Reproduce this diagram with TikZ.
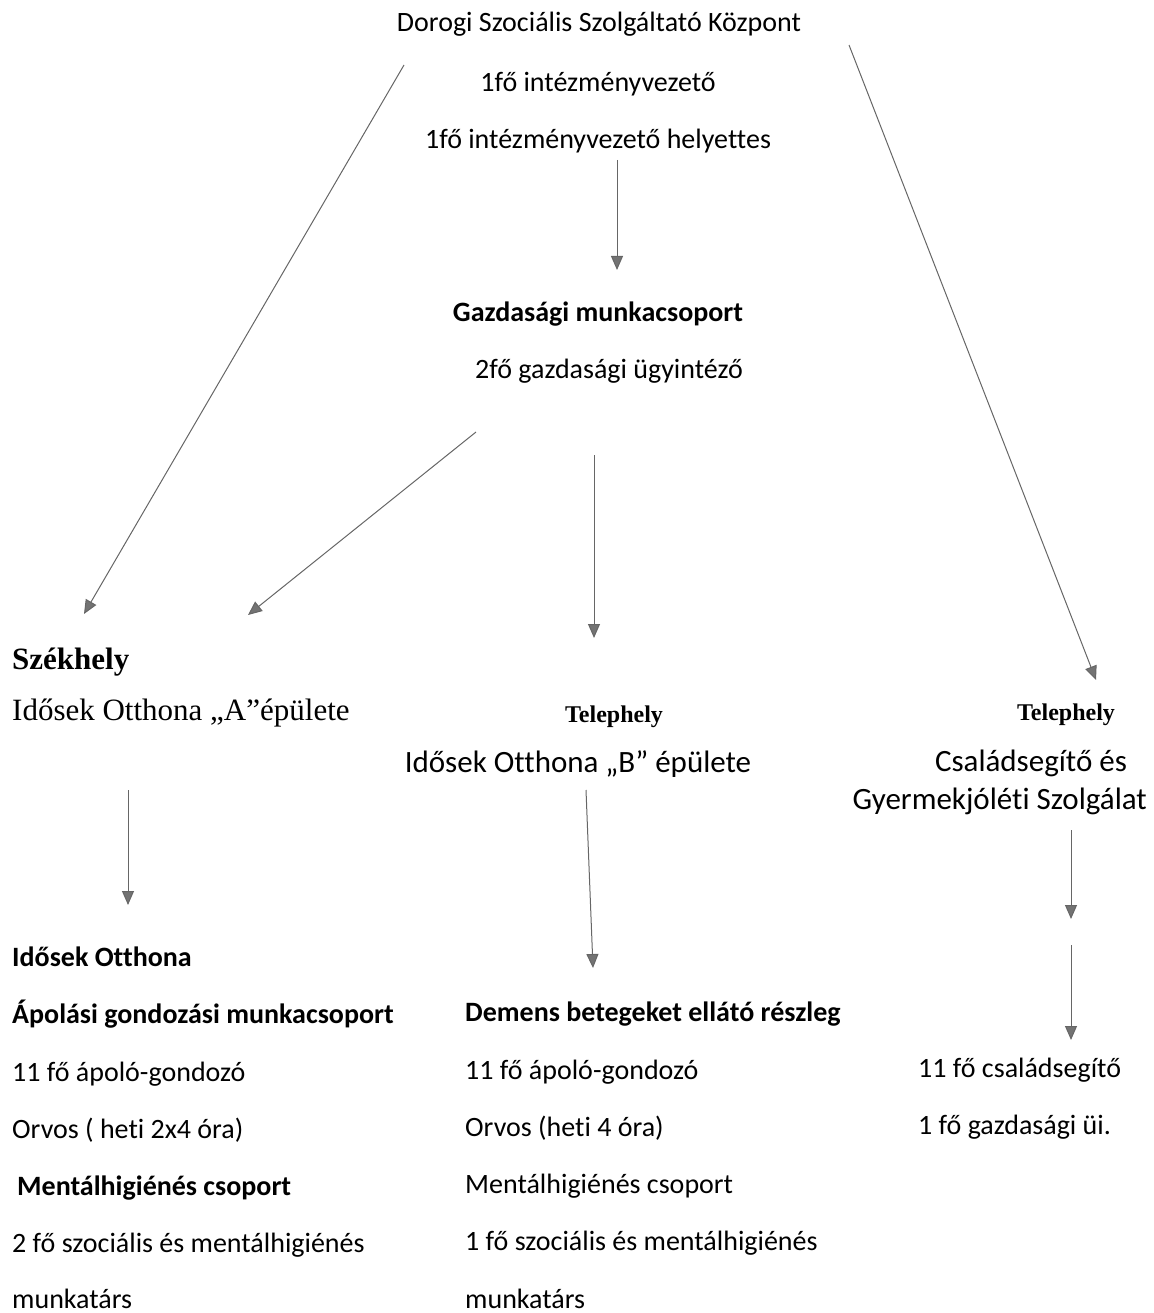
\documentclass[tikz,border=0pt]{standalone}
\usepackage{fontspec}
\setmainfont{Carlito}[Ligatures={TeX,NoCommon}]
\newfontfamily\timesfont{Liberation Serif}
\usetikzlibrary{arrows.meta}

\begin{document}
\begin{tikzpicture}[x=1pt,y=1pt]
\tikzstyle{every node}+=[inner sep=0pt]
\tikzstyle{txt}=[font=\fontsize{28}{33}\selectfont]
\tikzstyle{txtb}=[font=\fontsize{28}{33}\selectfont\bfseries]
\tikzstyle{txtnagy}=[font=\fontsize{31}{36}\selectfont]
\tikzstyle{tms}=[font=\timesfont\fontsize{31}{36}\selectfont]
\tikzstyle{tmsb}=[font=\timesfont\fontsize{31}{36}\selectfont\bfseries]
\tikzstyle{tmskis}=[font=\timesfont\fontsize{24}{28}\selectfont\bfseries]
\tikzstyle{nyil}=[black!60, line width=1pt,
  -{Triangle[length=14pt,width=12pt,fill=black!55]}]
\useasboundingbox (0,0) rectangle (1153,-1313);
% kozpont
\node[txt, anchor=mid] (kozpont) at (599,-29) {Dorogi Szociális Szolgáltató Központ};
\node[txt, anchor=mid] (vezeto) at (598,-89) {1fő intézményvezető};
\node[txt, anchor=mid] (helyettes) at (598,-146) {1fő intézményvezető helyettes};
\node[txtb, anchor=mid] (gazd) at (598,-319) {Gazdasági munkacsoport};
\node[txt, anchor=mid] (ugyint) at (609,-376) {2fő gazdasági ügyintéző};
% telephelyek
\node[tmsb, anchor=mid west] (szekhely) at (12,-667) {Székhely};
\node[tms, anchor=mid west] (otthon_a) at (12,-718) {Idősek Otthona „A”épülete};
\node[tmskis, anchor=mid] (telep_b) at (614,-720) {Telephely};
\node[txtnagy, anchor=mid] (otthon_b) at (578,-770) {Idősek Otthona „B” épülete};
\node[tmskis, anchor=mid] (telep_c) at (1066,-718) {Telephely};
\node[txtnagy, anchor=mid] (csalad1) at (1031,-769) {Családsegítő és};
\node[txtnagy, anchor=mid east] (csalad2) at (1147,-807) {Gyermekjóléti Szolgálat};
% also szint, A epulet
\node[txtb, anchor=mid west] (a1) at (12,-964) {Idősek Otthona};
\node[txtb, anchor=mid west] (a2) at (12,-1021) {Ápolási gondozási munkacsoport};
\node[txt, anchor=mid west] (a3) at (12,-1079) {11 fő ápoló-gondozó};
\node[txt, anchor=mid west] (a4) at (12,-1136) {Orvos ( heti 2x4 óra)};
\node[txtb, anchor=mid west] (a5) at (17,-1193) {Mentálhigiénés csoport};
\node[txt, anchor=mid west] (a6) at (12,-1250) {2 fő szociális és mentálhigiénés};
\node[txt, anchor=mid west] (a7) at (12,-1306) {munkatárs};
% B epulet
\node[txtb, anchor=mid west] (b1) at (465,-1019) {Demens betegeket ellátó részleg};
\node[txt, anchor=mid west] (b2) at (465,-1077) {11 fő ápoló-gondozó};
\node[txt, anchor=mid west] (b3) at (465,-1134) {Orvos (heti 4 óra)};
\node[txt, anchor=mid west] (b4) at (465,-1191) {Mentálhigiénés csoport};
\node[txt, anchor=mid west] (b5) at (465,-1248) {1 fő szociális és mentálhigiénés};
\node[txt, anchor=mid west] (b6) at (465,-1306) {munkatárs};
% csaladsegito
\node[txt, anchor=mid west] (c1) at (918,-1075) {11 fő családsegítő};
\node[txt, anchor=mid west] (c2) at (918,-1132) {1 fő gazdasági üi.};
% nyilak vegpontjai
\coordinate (k_bal) at (404,-65);
\coordinate (k_jobb) at (849,-45);
\coordinate (k_le) at (617,-160);
\coordinate (g_fent) at (617,-270);
\coordinate (g_bal) at (476,-432);
\coordinate (g_le) at (594,-455);
\coordinate (a_fent) at (84,-614);
\coordinate (a_fent2) at (248,-615);
\coordinate (b_fent) at (594,-638);
\coordinate (c_fent) at (1096,-680);
\coordinate (a_le) at (128,-790);
\coordinate (a_lent) at (128,-905);
\coordinate (b_le) at (586,-790);
\coordinate (b_lent) at (593,-968);
\coordinate (c_le) at (1071,-830);
\coordinate (c_kozep) at (1071,-919);
\coordinate (c_le2) at (1071,-945);
\coordinate (c_lent) at (1071,-1040);
\draw[nyil] (k_le) -- (g_fent);
\draw[nyil] (k_bal) -- (a_fent);
\draw[nyil] (k_jobb) -- (c_fent);
\draw[nyil] (g_bal) -- (a_fent2);
\draw[nyil] (g_le) -- (b_fent);
\draw[nyil] (a_le) -- (a_lent);
\draw[nyil] (b_le) -- (b_lent);
\draw[nyil] (c_le) -- (c_kozep);
\draw[nyil] (c_le2) -- (c_lent);
\end{tikzpicture}
\end{document}
